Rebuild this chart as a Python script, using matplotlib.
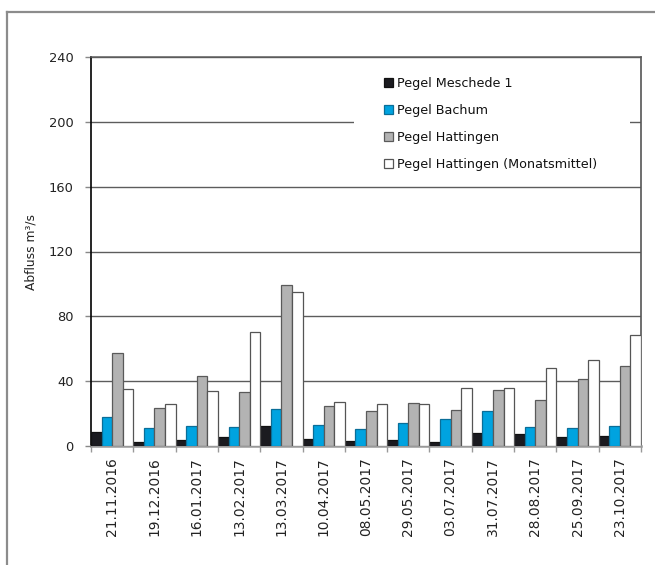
import matplotlib
matplotlib.use("Agg")
import matplotlib.pyplot as plt
from matplotlib.lines import Line2D
from matplotlib.patches import Rectangle
import numpy as np

# Messtermine
dates = ["21.11.2016", "19.12.2016", "16.01.2017", "13.02.2017", "13.03.2017",
         "10.04.2017", "08.05.2017", "29.05.2017", "03.07.2017", "31.07.2017",
         "28.08.2017", "25.09.2017", "23.10.2017"]

# Abfluss in m³/s
meschede = [8.6, 2.5, 3.7, 5.5, 12.3, 4.3, 3.3, 3.7, 2.5, 8.0, 7.4, 5.5, 6.2]
bachum = [17.9, 10.9, 12.1, 11.7, 22.6, 12.8, 10.3, 14.0, 16.7, 21.8, 11.7, 10.9, 12.3]
hattingen = [57.2, 23.4, 43.0, 33.1, 99.5, 24.7, 21.8, 26.3, 22.2, 34.4, 28.4, 41.3, 49.5]
hattingen_mm = [35.0, 26.1, 33.7, 70.3, 94.8, 27.0, 25.7, 25.7, 35.8, 35.8, 48.1, 52.9, 68.5]

series_labels = ["Pegel Meschede 1", "Pegel Bachum", "Pegel Hattingen",
                 "Pegel Hattingen (Monatsmittel)"]
yticks = [0, 40, 80, 120, 160, 200, 240]

plt.rcParams["font.family"] = ["DejaVu Sans"]

W, H = 655, 565
fig = plt.figure(figsize=(W / 100, H / 100), dpi=100)
ax = fig.add_axes([91 / W, 1 - 446 / H, 550 / W, 389 / H])

x = np.arange(len(dates))
bw = 0.25
styles = [
    dict(color="#1b1b20", edgecolor="#111111"),
    dict(color="#00a3e0", edgecolor="#0a6e98"),
    dict(color="#b3b3b3", edgecolor="#5a5a5a"),
    dict(color="#ffffff", edgecolor="#555555"),
]
handles = []
for i, (vals, st) in enumerate(zip([meschede, bachum, hattingen, hattingen_mm], styles)):
    b = ax.bar(x + (i - 1.5) * bw, vals, width=bw, color=st["color"],
               edgecolor=st["edgecolor"], linewidth=0.9, zorder=3,
               label=series_labels[i])
    handles.append(b)

ax.set_xlim(-0.5, len(dates) - 0.5)
ax.set_ylim(0, 240)
ax.set_yticks(yticks)
ax.set_yticklabels([str(v) for v in yticks], fontsize=9.4, color="#222222")
ax.yaxis.grid(True, color="#5c5c5c", linewidth=1.0, zorder=0)
ax.set_axisbelow(True)

ax.set_xticks(x)
ax.set_xticklabels(dates, rotation=90, fontsize=9.9, color="#222222")
ax.set_xticks(np.arange(-0.5, len(dates)), minor=True)
ax.tick_params(axis="x", which="major", length=0, pad=8)
ax.tick_params(axis="x", which="minor", length=4, color="#999999", width=1)
ax.tick_params(axis="y", length=4.5, color="#888888", width=1, pad=8)

ax.set_ylabel("Abfluss m³/s", fontsize=8.8, color="#222222", labelpad=8)

ax.spines["left"].set_color("#000000")
ax.spines["left"].set_linewidth(1.2)
ax.spines["bottom"].set_color("#999999")
ax.spines["bottom"].set_linewidth(1.8)
ax.spines["top"].set_color("#5c5c5c")
ax.spines["right"].set_color("#555555")
ax.spines["top"].set_linewidth(1.1)
ax.spines["right"].set_linewidth(1.2)

# white box behind the legend, hiding the gridline
ax.add_patch(Rectangle(((354 - 91) / 550, (446 - 180) / 389),
                       (630 - 354) / 550, (180 - 62) / 389,
                       transform=ax.transAxes, facecolor="white",
                       edgecolor="none", zorder=2))

leg = ax.legend(handles=handles, loc="upper left",
                bbox_to_anchor=(384 / W, 1 - 77 / H),
                bbox_transform=fig.transFigure, frameon=False,
                fontsize=9.2, handlelength=0.7, handleheight=0.7,
                handletextpad=0.35, labelspacing=1.1, borderpad=0,
                borderaxespad=0)
for t in leg.get_texts():
    t.set_color("#111111")

# outer frame
fig.add_artist(Line2D([7 / W, 1], [1 - 12 / H, 1 - 12 / H],
                      transform=fig.transFigure, color="#8c8c8c", linewidth=1.6))
fig.add_artist(Line2D([7 / W, 7 / W], [0, 1 - 12 / H],
                      transform=fig.transFigure, color="#8c8c8c", linewidth=1.6))

fig.savefig("out.png", dpi=100)
